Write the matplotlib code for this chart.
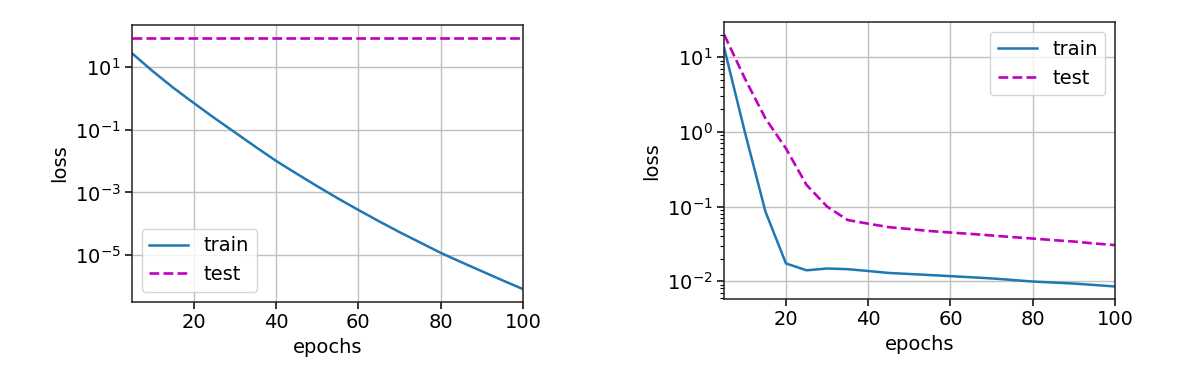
import matplotlib
matplotlib.use("Agg")
import matplotlib.pyplot as plt

plt.rcParams["font.size"] = 14
plt.rcParams["lines.linewidth"] = 1.8
plt.rcParams["axes.linewidth"] = 1.1
plt.rcParams["axes.edgecolor"] = "#222222"
plt.rcParams["xtick.major.size"] = 4.7
plt.rcParams["ytick.major.size"] = 4.7
plt.rcParams["xtick.major.width"] = 1.1
plt.rcParams["ytick.major.width"] = 1.1
plt.rcParams["ytick.minor.size"] = 2.7
plt.rcParams["ytick.minor.width"] = 0.8
plt.rcParams["grid.linewidth"] = 1.0

epochs = [5, 10, 15, 20, 25, 30, 35, 40, 45, 50, 55, 60, 65, 70, 75, 80, 85, 90, 95, 100]

# left panel: no weight decay -> train keeps falling, test stays high
train_left = [28.2, 7.59, 2.24, 0.724, 0.240, 0.0832, 0.0288, 0.0102, 3.98e-3, 1.58e-3,
              6.46e-4, 2.75e-4, 1.20e-4, 5.37e-5, 2.51e-5, 1.17e-5, 5.89e-6, 3.02e-6, 1.55e-6, 8.1e-7]
test_left = [85.0, 85.0, 85.0, 85.0, 85.0, 85.0, 85.0, 85.0, 85.0, 85.0,
             85.0, 85.0, 85.0, 85.0, 85.0, 85.0, 85.0, 85.0, 85.0, 85.0]

# right panel: with weight decay
train_right = [13.2, 1.0, 0.086, 0.0173, 0.0140, 0.0148, 0.0145, 0.0137, 0.0129, 0.0125,
               0.0121, 0.0117, 0.0113, 0.0109, 0.0104, 0.0099, 0.0096, 0.0093, 0.0089, 0.0085]
test_right = [20.0, 5.2, 1.52, 0.60, 0.195, 0.100, 0.066, 0.059, 0.053, 0.050,
              0.047, 0.0449, 0.043, 0.041, 0.039, 0.0373, 0.0355, 0.034, 0.032, 0.0305]

fig = plt.figure(figsize=(11.92, 3.71), dpi=100)
ax1 = fig.add_axes([0.1107, 0.1868, 0.328, 0.7458])
ax2 = fig.add_axes([0.6076, 0.1941, 0.3278, 0.7458])

panels = [(ax1, train_left, test_left, "lower left", (3.2e-7, 225)),
          (ax2, train_right, test_right, "upper right", (0.00578, 29.4))]
for ax, tr, te, loc, ylim in panels:
    ax.plot(epochs, tr, "-", color="#1f77b4", lw=1.8, label="train")
    ax.plot(epochs, te, "m--", lw=1.9, label="test")
    ax.set_yscale("log")
    ax.set_xlim(5, 100)
    ax.set_ylim(*ylim)
    ax.set_xlabel("epochs")
    ax.set_ylabel("loss")
    ax.grid(True, color="#c0c0c0")
    ax.legend(loc=loc)

fig.savefig("out.png")
